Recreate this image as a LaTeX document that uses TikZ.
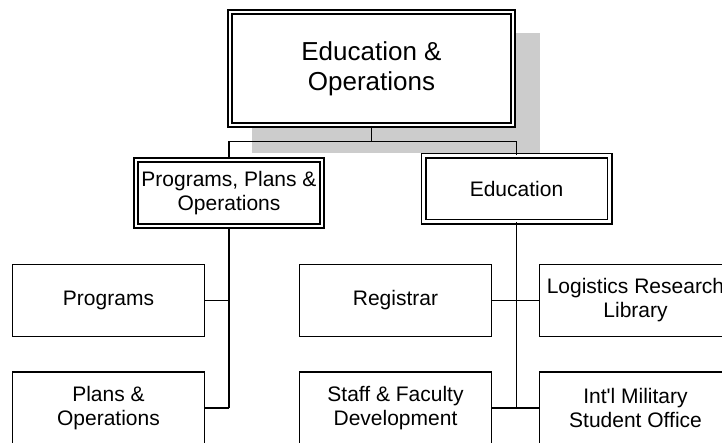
\documentclass[tikz,border=0pt]{standalone}
\usepackage{fontspec}
\setmainfont{Liberation Sans}
\begin{document}
\begin{tikzpicture}[x=1pt,y=1pt]
\tikzstyle{every node}+=[inner sep=0pt]
\tikzstyle{unit}=[draw=black, line width=1.5pt, fill=white, minimum width=192pt, minimum height=72pt, align=center, font=\fontsize{21}{24}\selectfont]
\tikzstyle{dept}=[unit, line width=1.6pt, double, double distance=2.8pt, minimum width=186pt, minimum height=66pt]
\tikzstyle{link}=[black, line width=1.5pt]
\tikzstyle{trunk}=[black, line width=1.9pt]

\useasboundingbox (0,0) rectangle (722,-442);
\clip (0,0) rectangle (722,-442);

\fill [gray!40] (252,-33) rectangle (540,-153);
\node [dept, minimum width=283pt, minimum height=113pt, font=\fontsize{26}{30}\selectfont] (eo) at (371.5,-68.5) {Education \&\\Operations};
\node [dept] (ppo) at (229,-193) {Programs, Plans \&\\Operations};
\node [dept] (edu) at (516.5,-188.5) {Education};
\node [unit] (prog) at (108.5,-300.5) {Programs};
\node [unit] (plans) at (108.5,-408) {Plans \&\\Operations};
\node [unit] (reg) at (395.5,-300.5) {Registrar};
\node [unit] (staff) at (395.5,-408) {Staff \& Faculty\\Development};
\node [unit] (lib) at (635.5,-300.5) {Logistics Research\\Library};
\node [unit] (imso) at (635.5,-408) {Int\textquotesingle l Military\\Student Office};

\draw [link] (eo.south) -- ++(0,-15.5) coordinate (hub);
\draw [link] (ppo.north) |- (hub) -| (edu.north);
\draw [trunk] (ppo.south) -- (ppo.south |- plans.east);
\draw [link] (prog.east) -- (prog.east -| ppo.south);
\draw [link] (plans.east) -- (plans.east -| ppo.south);
\draw [trunk] (edu.south) -- (edu.south |- staff.east);
\draw [link] (reg.east) -- (lib.west);
\draw [link] (staff.east) -- (imso.west);
\end{tikzpicture}
\end{document}
